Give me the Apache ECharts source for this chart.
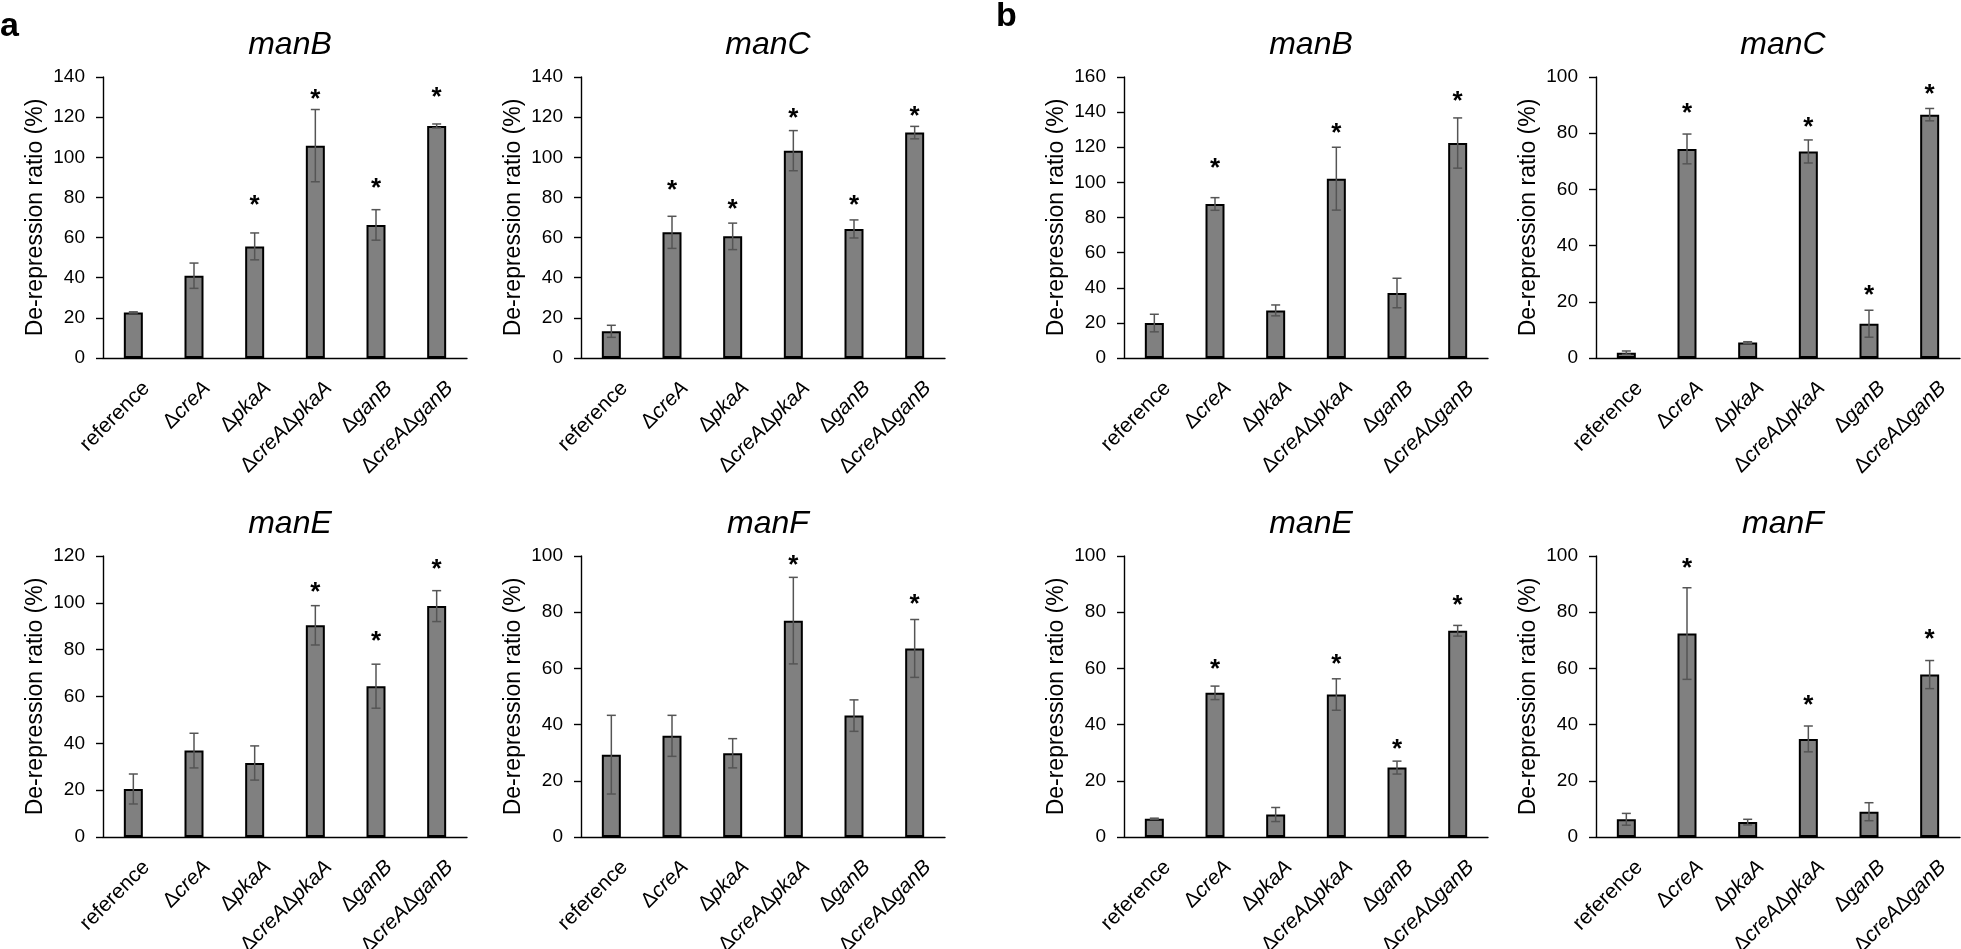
<!DOCTYPE html>
<html>
<head>
<meta charset="utf-8">
<script src="https://cdn.jsdelivr.net/npm/echarts@6/dist/echarts.min.js"></script>
<style>
html,body{margin:0;padding:0;background:#fff;}
#chart{width:1961px;height:949px;}
</style>
</head>
<body>
<div id="chart"></div>
<script>
// ---- data ----
const categories = ['reference', 'ΔcreA', 'ΔpkaA', 'ΔcreAΔpkaA', 'ΔganB', 'ΔcreAΔganB'];
const yAxisName = 'De-repression ratio (%)';
const panelLetters = ['a', 'b'];

// panel a
const aManB_mean = [22.7, 41.0, 55.6, 105.8, 66.3, 115.6];
const aManB_err  = [0.3, 6.3, 6.7, 18.0, 7.6, 1.0];
const aManB_star = [null, null, 78.9, 131.5, 87.5, 132.4];

const aManC_mean = [13.3, 62.6, 60.6, 103.3, 64.3, 112.3];
const aManC_err  = [3.0, 8.0, 6.6, 10.0, 4.5, 3.1];
const aManC_star = [null, 86.4, 76.9, 122.0, 78.9, 123.2];

const aManE_mean = [20.5, 36.9, 31.6, 90.4, 64.4, 98.6];
const aManE_err  = [6.4, 7.4, 7.3, 8.4, 9.4, 6.6];
const aManE_star = [null, null, null, 106.9, 86.1, 116.6];

const aManF_mean = [29.3, 36.0, 29.8, 77.0, 43.2, 67.1];
const aManF_err  = [14.0, 7.3, 5.2, 15.4, 5.6, 10.3];
const aManF_star = [null, null, null, 98.6, null, 84.9];

// panel b
const bManB_mean = [19.9, 87.7, 27.1, 102.1, 37.0, 122.4];
const bManB_err  = [5.0, 3.6, 3.1, 17.9, 8.4, 14.3];
const bManB_star = [null, 111.0, null, 131.0, null, 149.0];

const bManC_mean = [1.9, 74.4, 5.5, 73.5, 12.2, 86.6];
const bManC_err  = [0.6, 5.3, 0.3, 4.1, 4.8, 2.2];
const bManC_star = [null, 89.0, null, 84.2, 24.1, 95.7];

const bManE_mean = [6.5, 51.3, 8.0, 50.7, 24.7, 73.4];
const bManE_err  = [0.2, 2.4, 2.5, 5.6, 2.3, 1.9];
const bManE_star = [null, 61.8, null, 63.5, 33.3, 84.3];

const bManF_mean = [6.3, 72.4, 5.3, 34.9, 9.0, 57.8];
const bManF_err  = [2.1, 16.3, 1.0, 4.6, 3.2, 5.0];
const bManF_star = [null, 97.4, null, 48.7, null, 72.4];

const panelTitles = ['manB', 'manC', 'manB', 'manC', 'manE', 'manF', 'manE', 'manF'];
const panelMax    = [140, 140, 160, 100, 120, 100, 100, 100];
const panelMeans  = [aManB_mean, aManC_mean, bManB_mean, bManC_mean, aManE_mean, aManF_mean, bManE_mean, bManF_mean];
const panelErrs   = [aManB_err, aManC_err, bManB_err, bManC_err, aManE_err, aManF_err, bManE_err, bManF_err];
const panelStars  = [aManB_star, aManC_star, bManB_star, bManC_star, aManE_star, aManF_star, bManE_star, bManF_star];

// ---- layout ----
const FONT = '"Liberation Sans", Arial, sans-serif';
const colLeft = [103, 581, 1124, 1596];
const gridW = 364;
const rowTop = [77, 556];
const gridH = 281;
const titleTop = [24, 503];

const chart = echarts.init(document.getElementById('chart'), null, {renderer: 'canvas'});

const grids = [], xAxes = [], yAxes = [], series = [], titles = [];

function fmtCat(v) {
  if (v.indexOf('Δ') < 0) return '{r|' + v + '}';
  return v.replace(/Δ([A-Za-z]+)/g, '{d|Δ}{i|$1}');
}

for (let p = 0; p < 8; p++) {
  const row = p < 4 ? 0 : 1;
  const col = p % 4;
  const left = colLeft[col];
  const top = rowTop[row];
  grids.push({left: left, top: top, width: gridW, height: gridH, containLabel: false, outerBoundsMode: 'none'});
  titles.push({
    text: panelTitles[p],
    left: left + gridW / 2,
    top: titleTop[row],
    textAlign: 'center',
    textStyle: {fontFamily: FONT, fontSize: 32, fontStyle: 'italic', fontWeight: 'normal', color: '#000'}
  });
  xAxes.push({
    type: 'category', gridIndex: p, data: categories,
    axisLine: {lineStyle: {color: '#000', width: 1.4}},
    axisTick: {show: false},
    axisLabel: {
      interval: 0, rotate: 45, margin: 14, padding: [37, 0, 0, 0],
      formatter: fmtCat,
      rich: {
        r: {fontFamily: FONT, fontSize: 21, color: '#000'},
        d: {fontFamily: FONT, fontSize: 21, color: '#000'},
        i: {fontFamily: FONT, fontSize: 21, fontStyle: 'italic', color: '#000'}
      }
    }
  });
  yAxes.push({
    type: 'value', gridIndex: p, min: 0, max: panelMax[p], interval: 20,
    name: yAxisName, nameLocation: 'middle', nameRotate: 90, nameGap: 56,
    nameTextStyle: {fontFamily: FONT, fontSize: 23, color: '#000'},
    axisLine: {show: true, lineStyle: {color: '#000', width: 1.4}},
    axisTick: {show: true, length: 7, lineStyle: {color: '#000', width: 1.4}},
    axisLabel: {fontFamily: FONT, fontSize: 19, color: '#000', margin: 18},
    splitLine: {show: false}
  });
  series.push({
    type: 'bar', xAxisIndex: p, yAxisIndex: p,
    data: panelMeans[p], barWidth: 19,
    itemStyle: {color: '#808080', borderColor: '#000', borderWidth: 2},
    z: 2
  });
  const errData = panelMeans[p].map((m, i) => [i, m, panelErrs[p][i]]);
  series.push({
    type: 'custom', xAxisIndex: p, yAxisIndex: p, data: errData, z: 3,
    renderItem: function (params, api) {
      const x = api.value(0), m = api.value(1), e = api.value(2);
      const t = api.coord([x, m + e]);
      const b = api.coord([x, m - e]);
      const hw = 4.5;
      const st = {stroke: '#555', lineWidth: 1.5};
      return {type: 'group', children: [
        {type: 'line', shape: {x1: t[0], y1: t[1], x2: b[0], y2: b[1]}, style: st},
        {type: 'line', shape: {x1: t[0] - hw, y1: t[1], x2: t[0] + hw, y2: t[1]}, style: st},
        {type: 'line', shape: {x1: b[0] - hw, y1: b[1], x2: b[0] + hw, y2: b[1]}, style: st}
      ]};
    }
  });
  const starData = [];
  panelStars[p].forEach((s, i) => { if (s !== null) starData.push([i, s]); });
  series.push({
    type: 'custom', xAxisIndex: p, yAxisIndex: p, data: starData, z: 4,
    renderItem: function (params, api) {
      const c = api.coord([api.value(0), api.value(1)]);
      return {type: 'text', x: c[0], y: c[1] + 6, style: {
        text: '*', textAlign: 'center', textVerticalAlign: 'middle',
        font: 'bold 26px ' + FONT, fill: '#000'
      }};
    }
  });
}

chart.setOption({
  animation: false,
  backgroundColor: '#fff',
  title: titles,
  grid: grids,
  xAxis: xAxes,
  yAxis: yAxes,
  series: series,
  graphic: [
    {type: 'text', left: 0, top: 10, style: {text: panelLetters[0], font: 'bold 34px ' + FONT, fill: '#000'}},
    {type: 'text', left: 996, top: 0, style: {text: panelLetters[1], font: 'bold 34px ' + FONT, fill: '#000'}}
  ]
});
</script>
</body>
</html>
